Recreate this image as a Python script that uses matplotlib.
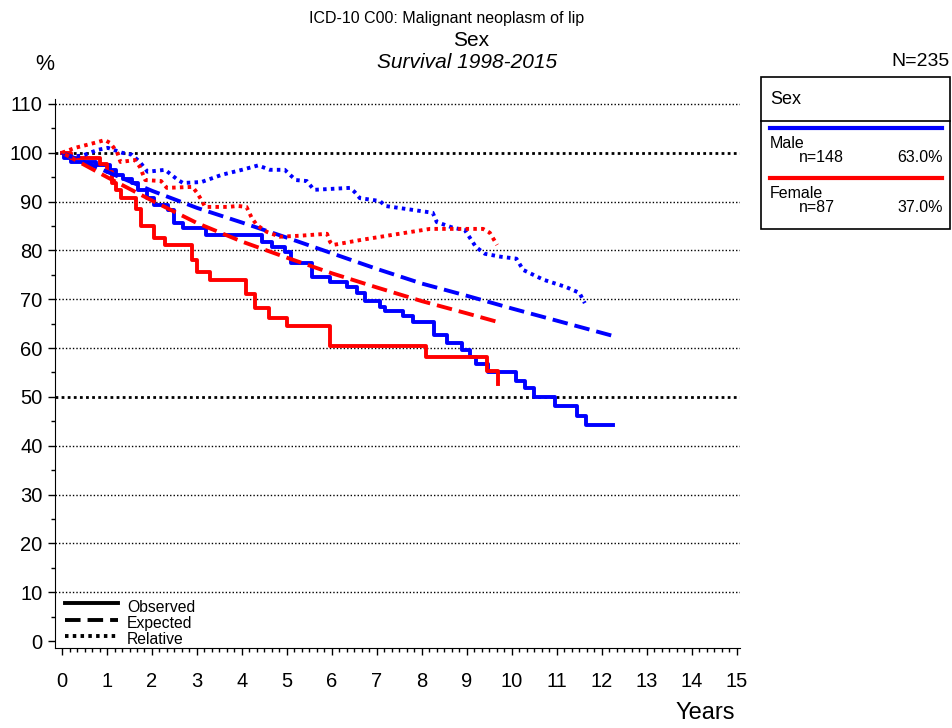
import numpy as np
import matplotlib
matplotlib.use("Agg")
import matplotlib.pyplot as plt
from matplotlib.lines import Line2D
from matplotlib.patches import Rectangle

plt.rcParams['font.family'] = ['Liberation Sans', 'DejaVu Sans']

# observed survival (step curves), years / %
male_obs_t = [0, 0.05, 0.2, 0.75, 1.07, 1.2, 1.35, 1.55, 1.7, 1.9, 2.05, 2.35, 2.5, 2.7,
              3.2, 4.45, 4.67, 4.95, 5.1, 5.55, 5.96, 6.33, 6.56, 6.73, 7.07, 7.18, 7.58,
              7.8, 8.27, 8.56, 8.9, 9.07, 9.2, 9.47, 10.1, 10.3, 10.5, 10.96, 11.44, 11.64, 12.24]
male_obs_s = [100, 98.9, 98.1, 97.5, 96.5, 95.5, 94.6, 93.8, 92.4, 90.7, 89.3, 88.3, 85.6, 84.6,
              83.2, 81.7, 80.7, 79.7, 77.5, 74.6, 73.5, 72.5, 71.3, 69.6, 68.4, 67.6, 66.6,
              65.3, 62.7, 61.0, 59.6, 58.2, 56.7, 55.1, 53.3, 51.8, 50.0, 48.1, 46.1, 44.2, 44.2]

female_obs_t = [0, 0.2, 0.85, 1.0, 1.1, 1.2, 1.3, 1.65, 1.75, 2.05, 2.3, 2.9, 3.0, 3.3,
                4.1, 4.3, 4.6, 5.0, 5.95, 8.1, 9.45, 9.69, 9.7]
female_obs_s = [100, 98.9, 97.7, 96.0, 93.8, 92.4, 90.8, 88.5, 84.9, 82.5, 81.0, 78.0, 75.5, 74.0,
                71.0, 68.2, 66.2, 64.5, 60.4, 58.1, 55.2, 52.6, 52.6]

# expected survival
male_exp_t = [0, 1, 2, 3, 4, 5, 6, 7, 8, 9, 10, 11, 12.24]
male_exp_s = [100, 96.1, 92.2, 88.7, 85.7, 82.6, 79.4, 76.2, 73.2, 70.7, 68.1, 65.6, 62.5]
female_exp_t = [0, 1, 2, 3, 4, 5, 6, 7, 8, 9, 9.7]
female_exp_s = [100, 95.0, 90.2, 85.6, 81.8, 78.5, 75.3, 72.4, 69.6, 67.1, 65.3]

# relative survival
male_rel_t = [0, 0.18, 0.45, 0.8, 1.02, 1.33, 1.55, 1.73, 1.9, 2.29, 2.58, 2.69, 3.1, 3.56,
              4.0, 4.36, 4.62, 4.95, 5.1, 5.2, 5.44, 5.6, 6.4, 6.5, 6.62, 7.07, 7.18, 8.24,
              8.33, 8.7, 8.95, 9.2, 9.4, 9.75, 10.1, 10.25, 10.7, 11.2, 11.5, 11.62]
male_rel_s = [100, 99.2, 99.4, 100.6, 101, 100, 99.6, 98.1, 96.1, 96.5, 94.4, 93.8, 94.0, 95.5,
              96.5, 97.4, 96.5, 96.5, 95.2, 94.4, 94.2, 92.4, 92.8, 92.0, 90.7, 90.1, 89.1, 87.7,
              85.8, 84.6, 84.2, 80.7, 79.3, 78.7, 78.3, 76.0, 74.0, 72.5, 71.3, 69.2]
female_rel_t = [0, 0.29, 0.55, 0.8, 0.95, 1.07, 1.22, 1.3, 1.62, 1.73, 1.85, 2.2, 2.33, 2.9,
                3.0, 3.1, 3.18, 3.7, 3.9, 4.1, 4.22, 4.33, 4.55, 4.84, 5.29, 5.89, 5.96, 6.02,
                6.62, 7.36, 8.18, 9.36, 9.51, 9.67]
female_rel_s = [100, 101, 101.6, 102.2, 102.6, 102, 100.2, 98.1, 98.5, 97.1, 94.4, 94.2, 92.8, 93.0,
                91.8, 90.3, 88.9, 88.9, 89.1, 88.9, 86.6, 85.2, 83.8, 82.8, 83.0, 83.4, 81.7, 81.1,
                82.1, 83.2, 84.4, 84.4, 83.6, 81.1]

groups = ["Male", "Female"]
group_n = ["n=148", "n=87"]
group_pct = ["63.0%", "37.0%"]
colors = ["#0000ff", "#ff0000"]

W, H = 953, 728
fig = plt.figure(figsize=(W / 100, H / 100), dpi=100)
ax = fig.add_axes([55 / W, 1 - 648 / H, (740 - 55) / W, (648 - 99) / H])

# grid
for g in range(10, 111, 10):
    bold = g in (50, 100)
    ax.axhline(g, color="black", lw=2.0 if bold else 1.0, ls=(0, (1, 1.2)) if bold else (0, (1, 1.5)), zorder=1)

lw = 2.8
dash = (0, (4, 1.8))
dot = (0, (0.9, 1.1))
ax.step(male_obs_t, male_obs_s, where="post", color=colors[0], lw=lw, zorder=3)
ax.step(female_obs_t, female_obs_s, where="post", color=colors[1], lw=lw, zorder=3)
ax.plot(male_exp_t, male_exp_s, color=colors[0], lw=lw, ls=dash, zorder=3)
ax.plot(female_exp_t, female_exp_s, color=colors[1], lw=lw, ls=dash, zorder=3)
ax.plot(male_rel_t, male_rel_s, color=colors[0], lw=lw, ls=dot, zorder=3)
ax.plot(female_rel_t, female_rel_s, color=colors[1], lw=lw, ls=dot, zorder=3)

ax.set_xlim(-0.156, 15.07)
ax.set_ylim(-1.43, 111)
ax.spines["top"].set_visible(False)
ax.spines["right"].set_visible(False)
ax.set_xticks(range(0, 16))
ax.set_xticks(np.arange(0, 15.01, 1 / 6), minor=True)
ax.set_yticks(range(0, 111, 10))
ax.set_yticks(range(5, 111, 10), minor=True)
ax.tick_params(which="major", length=5, width=1, labelsize=14.5, pad=4)
ax.tick_params(which="minor", length=3, width=1)
ax.tick_params(axis="x", pad=12)

# line style key inside plot
key = [("-", "Observed"), (dash, "Expected"), (dot, "Relative")]
for i, (ls_, lab) in enumerate(key):
    y = 603 + i * 16.5
    fig.add_artist(Line2D([65 / W, 118 / W], [1 - y / H, 1 - y / H], color="black", lw=lw, ls=ls_))
    fig.text(127 / W, 1 - (y + 4) / H, lab, fontsize=11.3, va="center", ha="left")

# titles
fig.text(447 / W, 1 - 18 / H, "ICD-10 C00: Malignant neoplasm of lip", fontsize=11.5, ha="center", va="center")
fig.text(471 / W, 1 - 40 / H, "Sex", fontsize=15, ha="center", va="center")
fig.text(467 / W, 1 - 62 / H, "Survival 1998-2015", fontsize=15, style="italic", ha="center", va="center")
fig.text(45 / W, 1 - 65 / H, "%", fontsize=15.5, ha="center", va="center")
fig.text(950 / W, 1 - 62 / H, "N=235", fontsize=14, ha="right", va="center")
fig.text(705 / W, 1 - 713 / H, "Years", fontsize=17, ha="center", va="center")

# group legend box
fig.add_artist(Rectangle((761 / W, 1 - 229 / H), (950 - 761) / W, (229 - 77) / H,
                         transform=fig.transFigure, fill=False, ec="black", lw=1.2))
fig.add_artist(Line2D([761 / W, 950 / W], [1 - 121 / H, 1 - 121 / H], color="black", lw=1.2))
fig.text(770 / W, 1 - 99 / H, "Sex", fontsize=13, ha="left", va="center")
for i in range(2):
    y0 = 128 + i * 50
    fig.add_artist(Line2D([770 / W, 942 / W], [1 - y0 / H, 1 - y0 / H], color=colors[i], lw=3))
    fig.text(770 / W, 1 - (y0 + 15) / H, groups[i], fontsize=11.5, ha="left", va="center")
    fig.text(799 / W, 1 - (y0 + 29) / H, group_n[i], fontsize=11.5, ha="left", va="center")
    fig.text(943 / W, 1 - (y0 + 29) / H, group_pct[i], fontsize=11.5, ha="right", va="center")

fig.savefig("out.png", dpi=100)
